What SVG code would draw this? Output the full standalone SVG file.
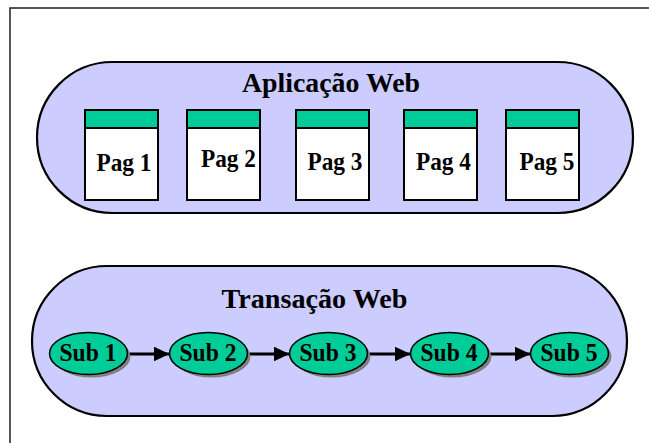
<svg xmlns="http://www.w3.org/2000/svg" width="649" height="443" viewBox="0 0 649 443">
<style>
.frame{fill:none;stroke:#222;stroke-width:1.5}
.pill{fill:#CCCCFF;stroke:#000;stroke-width:2.2}
.page{fill:#fff;stroke:#000;stroke-width:2}
.bar{fill:#00CC99;stroke:#000;stroke-width:2}
.sub{fill:#00CC99;stroke:#000;stroke-width:1.5}
.shadow{fill:#808080}
.title{font-family:"Liberation Serif","Times New Roman",serif;font-weight:bold;font-size:28px;fill:#000;text-anchor:middle}
.lbl{font-family:"Liberation Serif","Times New Roman",serif;font-weight:bold;font-size:25px;fill:#000;text-anchor:middle}
.conn{stroke:#000;stroke-width:3;fill:none}
</style>
<defs>
<marker id="ah" markerUnits="userSpaceOnUse" markerWidth="16" markerHeight="15" refX="16" refY="7.5" orient="auto">
<path d="M0,0 L16,7.5 L0,15 Z" fill="#000"/>
</marker>
</defs>
<rect width="649" height="443" fill="#fff"/>
<rect class="frame" x="10" y="8" width="660" height="460"/>
<g id="app">
<rect class="pill" x="37" y="62" width="596" height="151" rx="75.5" ry="75.5"/>
<text class="title" x="331" y="92" textLength="178" lengthAdjust="spacingAndGlyphs">Aplicação Web</text>
</g>
<g id="pag1"><rect class="page" x="85" y="110" width="73" height="90"/><rect class="bar" x="85" y="110" width="73" height="18"/><text class="lbl" x="124" y="171" textLength="55" lengthAdjust="spacingAndGlyphs">Pag 1</text></g>
<g id="pag2"><rect class="page" x="187" y="110" width="73" height="90"/><rect class="bar" x="187" y="110" width="73" height="18"/><text class="lbl" x="228.5" y="167" textLength="55" lengthAdjust="spacingAndGlyphs">Pag 2</text></g>
<g id="pag3"><rect class="page" x="296" y="110" width="73" height="90"/><rect class="bar" x="296" y="110" width="73" height="18"/><text class="lbl" x="335" y="170" textLength="55" lengthAdjust="spacingAndGlyphs">Pag 3</text></g>
<g id="pag4"><rect class="page" x="404" y="110" width="73" height="90"/><rect class="bar" x="404" y="110" width="73" height="18"/><text class="lbl" x="443.5" y="170" textLength="55" lengthAdjust="spacingAndGlyphs">Pag 4</text></g>
<g id="pag5"><rect class="page" x="506" y="110" width="73" height="90"/><rect class="bar" x="506" y="110" width="73" height="18"/><text class="lbl" x="547" y="170" textLength="55" lengthAdjust="spacingAndGlyphs">Pag 5</text></g>
<g id="trans">
<rect class="pill" x="32" y="266" width="595" height="150" rx="75" ry="75"/>
<text class="title" x="314.5" y="308" textLength="186" lengthAdjust="spacingAndGlyphs">Transação Web</text>
</g>
<g id="connectors">
<line class="conn" x1="127.5" y1="354" x2="169.5" y2="354" marker-end="url(#ah)"/>
<line class="conn" x1="247.5" y1="354" x2="289.5" y2="354" marker-end="url(#ah)"/>
<line class="conn" x1="367.5" y1="354" x2="410.5" y2="354" marker-end="url(#ah)"/>
<line class="conn" x1="488.5" y1="354" x2="530.5" y2="354" marker-end="url(#ah)"/>
</g>
<g id="sub1"><ellipse class="shadow" cx="91.5" cy="356.5" rx="39" ry="21"/><ellipse class="sub" cx="88.5" cy="353.5" rx="39" ry="21"/><text class="lbl" x="88" y="361" textLength="57" lengthAdjust="spacingAndGlyphs">Sub 1</text></g>
<g id="sub2"><ellipse class="shadow" cx="211.5" cy="356.5" rx="39" ry="21"/><ellipse class="sub" cx="208.5" cy="353.5" rx="39" ry="21"/><text class="lbl" x="208" y="361" textLength="57" lengthAdjust="spacingAndGlyphs">Sub 2</text></g>
<g id="sub3"><ellipse class="shadow" cx="331.5" cy="356.5" rx="39" ry="21"/><ellipse class="sub" cx="328.5" cy="353.5" rx="39" ry="21"/><text class="lbl" x="328" y="361" textLength="57" lengthAdjust="spacingAndGlyphs">Sub 3</text></g>
<g id="sub4"><ellipse class="shadow" cx="452.5" cy="356.5" rx="39" ry="21"/><ellipse class="sub" cx="449.5" cy="353.5" rx="39" ry="21"/><text class="lbl" x="449" y="361" textLength="57" lengthAdjust="spacingAndGlyphs">Sub 4</text></g>
<g id="sub5"><ellipse class="shadow" cx="572.5" cy="356.5" rx="39" ry="21"/><ellipse class="sub" cx="569.5" cy="353.5" rx="39" ry="21"/><text class="lbl" x="569" y="361" textLength="57" lengthAdjust="spacingAndGlyphs">Sub 5</text></g>
</svg>
